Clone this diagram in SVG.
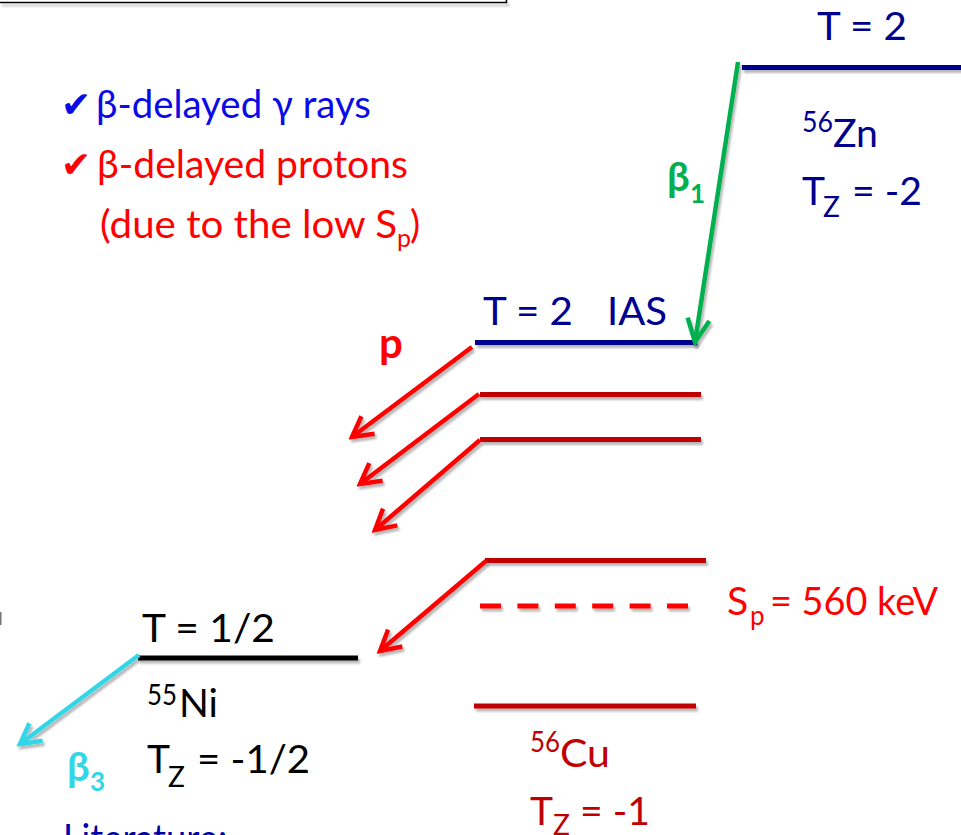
<svg xmlns="http://www.w3.org/2000/svg" width="961" height="835" viewBox="0 0 961 835">
<style>
text{font-family:Lato,"Noto Sans","DejaVu Sans",sans-serif;}
.ck{font-family:"DejaVu Sans",sans-serif;font-size:36px;}
.nv{fill:#00008F;}
.rd{fill:#FF0000;}
.dr{fill:#C00000;}
.bk{fill:#000000;}
.big{font-size:39px;}
.sup{font-size:28px;}
.lvl{stroke-width:5;fill:none;}
.arr{stroke-width:4.5;fill:none;}
</style>
<defs>
<filter id="sh" filterUnits="userSpaceOnUse" x="0" y="0" width="961" height="835">
<feDropShadow dx="2" dy="3" stdDeviation="1" flood-color="#000" flood-opacity="0.28"/>
</filter>
<marker id="mr" viewBox="-26 -15 30 30" refX="0" refY="0" markerWidth="30" markerHeight="30" markerUnits="userSpaceOnUse" orient="auto">
<path d="M-20,-11 L0,0 L-20,11" fill="none" stroke="#FF0000" stroke-width="4.5"/>
</marker>
<marker id="mg" viewBox="-28 -15 32 30" refX="0" refY="0" markerWidth="32" markerHeight="30" markerUnits="userSpaceOnUse" orient="auto">
<path d="M-23,-11 L0,0 L-23,11" fill="none" stroke="#00B050" stroke-width="4.5"/>
</marker>
<marker id="mc" viewBox="-26 -15 30 30" refX="0" refY="0" markerWidth="30" markerHeight="30" markerUnits="userSpaceOnUse" orient="auto">
<path d="M-20,-11 L0,0 L-20,11" fill="none" stroke="#33D6E6" stroke-width="4.5"/>
</marker>
</defs>
<rect width="961" height="835" fill="#FFFFFF"/>

<g id="topbox" filter="url(#sh)">
<path d="M0,2.5 H506.5 V0" fill="none" stroke="#000" stroke-width="1.5"/>
</g>
<rect x="0" y="612" width="1.5" height="13" fill="#777"/>

<g id="bullets">
<text x="61" y="117" class="ck" fill="#0A0AE6">✔</text>
<text x="96" y="118" font-size="38" fill="#0A0AE6" textLength="275" lengthAdjust="spacingAndGlyphs">β-delayed γ rays</text>
<text x="61" y="177" class="ck rd">✔</text>
<text x="97" y="178" font-size="38" class="rd" textLength="311" lengthAdjust="spacingAndGlyphs">β-delayed protons</text>
<text x="100" y="238" font-size="38" class="rd" textLength="297" lengthAdjust="spacingAndGlyphs">(due to the low S</text>
<text x="397" y="247" font-size="25" class="rd">p</text>
<text x="410" y="238" font-size="38" class="rd">)</text>
</g>

<g id="zn">
<text x="817" y="40" class="nv big" textLength="90" lengthAdjust="spacingAndGlyphs">T = 2</text>
<g filter="url(#sh)"><line x1="742" y1="67.5" x2="961" y2="67.5" stroke="#00008F" class="lvl"/></g>
<text x="802" y="132" class="nv sup" textLength="31" lengthAdjust="spacingAndGlyphs">56</text>
<text x="833" y="147" class="nv big" textLength="45" lengthAdjust="spacingAndGlyphs">Zn</text>
<text x="802" y="205" class="nv big">T</text>
<text x="823" y="217" class="nv sup">Z</text>
<text x="852" y="205" class="nv big" textLength="70" lengthAdjust="spacingAndGlyphs">= -2</text>
</g>

<g id="ias">
<text x="483" y="325" class="nv big" textLength="90" lengthAdjust="spacingAndGlyphs">T = 2</text>
<text x="607" y="325" class="nv big" textLength="60" lengthAdjust="spacingAndGlyphs">IAS</text>
<g filter="url(#sh)"><line x1="475" y1="342.5" x2="697" y2="342.5" stroke="#00008F" class="lvl"/></g>
</g>

<g id="cu" filter="url(#sh)">
<line x1="480" y1="394.5" x2="701" y2="394.5" stroke="#C00000" class="lvl"/>
<line x1="480" y1="439.5" x2="701" y2="439.5" stroke="#C00000" class="lvl"/>
<line x1="485" y1="560.5" x2="706" y2="560.5" stroke="#C00000" class="lvl"/>
<line x1="474" y1="706" x2="696" y2="706" stroke="#C00000" class="lvl"/>
</g>
<g id="sp">
<g filter="url(#sh)"><line x1="480" y1="606" x2="688" y2="606" stroke="#FF0000" stroke-width="5" stroke-dasharray="21 16.4"/></g>
<text x="727" y="615" class="rd big">S</text>
<text x="750" y="625" font-size="26" class="rd">p</text>
<text x="770" y="615" class="rd big" textLength="168" lengthAdjust="spacingAndGlyphs">= 560 keV</text>
</g>
<g id="cu-labels">
<text x="530" y="752" class="dr sup" textLength="30" lengthAdjust="spacingAndGlyphs">56</text>
<text x="560" y="767" class="dr big" textLength="50" lengthAdjust="spacingAndGlyphs">Cu</text>
<text x="530" y="825" class="dr big">T</text>
<text x="553" y="835" class="dr sup">Z</text>
<text x="580" y="825" class="dr big" textLength="70" lengthAdjust="spacingAndGlyphs">= -1</text>
</g>

<g id="ni">
<text x="142" y="642" class="bk big" textLength="133" lengthAdjust="spacingAndGlyphs">T = 1/2</text>
<g filter="url(#sh)"><line x1="138" y1="658" x2="358" y2="658" stroke="#000" class="lvl"/></g>
<text x="147" y="705" class="bk sup" textLength="30" lengthAdjust="spacingAndGlyphs">55</text>
<text x="179" y="717" class="bk big" textLength="39" lengthAdjust="spacingAndGlyphs">Ni</text>
<text x="147" y="773" class="bk big">T</text>
<text x="168" y="787" class="bk sup">Z</text>
<text x="197" y="773" class="bk big" textLength="113" lengthAdjust="spacingAndGlyphs">= -1/2</text>
</g>

<g id="connectors" filter="url(#sh)">
<line x1="738" y1="62" x2="695" y2="342" stroke="#00B050" class="arr" marker-end="url(#mg)"/>
<line x1="472" y1="347" x2="352" y2="437" stroke="#FF0000" class="arr" marker-end="url(#mr)"/>
<line x1="479" y1="394" x2="360" y2="484" stroke="#FF0000" class="arr" marker-end="url(#mr)"/>
<line x1="480" y1="440" x2="375" y2="530" stroke="#FF0000" class="arr" marker-end="url(#mr)"/>
<line x1="486" y1="561" x2="380" y2="651" stroke="#FF0000" class="arr" marker-end="url(#mr)"/>
<line x1="139" y1="655" x2="20" y2="744" stroke="#33D6E6" class="arr" marker-end="url(#mc)"/>
</g>

<g id="labels">
<text x="667" y="191" font-size="40" font-weight="bold" fill="#00B050">β</text>
<text x="690" y="203" font-size="26" font-weight="bold" fill="#00B050">1</text>
<text x="379" y="358" font-size="42" font-weight="bold" class="rd">p</text>
<text x="67" y="781" font-size="40" font-weight="bold" fill="#33D6E6">β</text>
<text x="90" y="791" font-size="26" font-weight="bold" fill="#33D6E6">3</text>
</g>

<g id="literature">
<text x="63" y="852" class="big" fill="#0000A8" textLength="164" lengthAdjust="spacingAndGlyphs">Literature:</text>
</g>
</svg>
